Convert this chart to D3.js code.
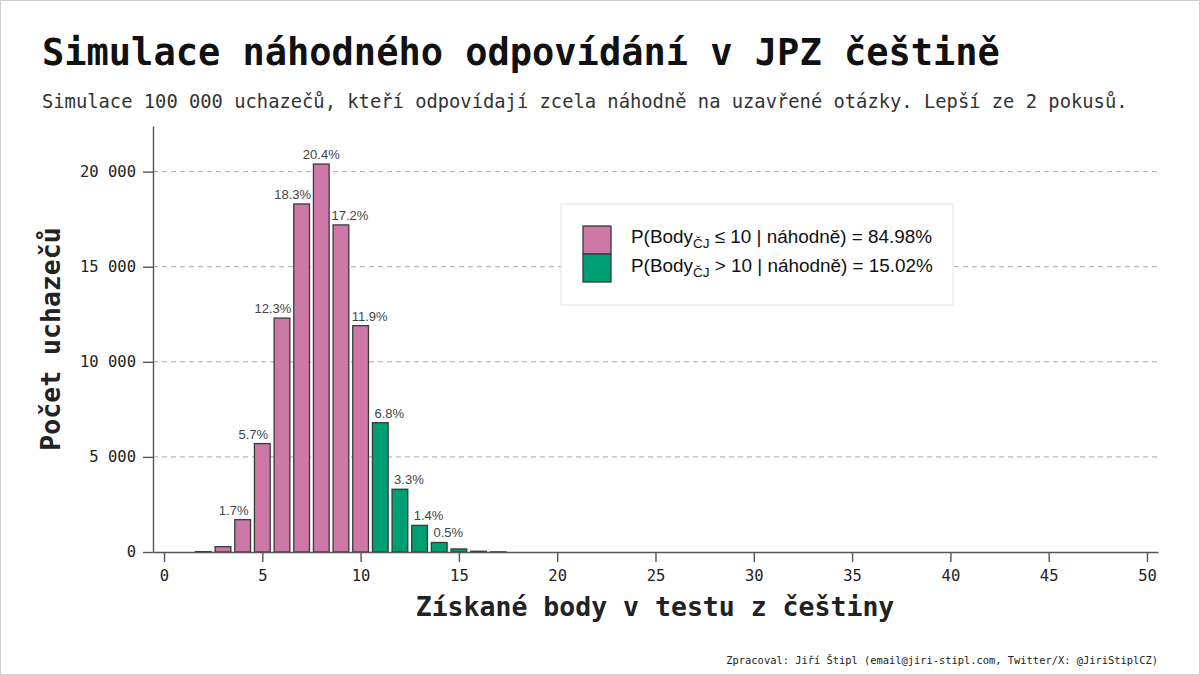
<!DOCTYPE html>
<html>
<head>
<meta charset="utf-8">
<script src="https://cdn.jsdelivr.net/npm/d3@7"></script>
<style>
  body { margin: 0; background: #fff; }
  svg { display: block; }
</style>
</head>
<body>
<div id="chart"></div>
<script>
// body v testu (0-50) a pocet uchazecu ze 100 000 simulaci
const points = d3.range(0, 51);
const counts = [0, 0, 20, 280, 1700, 5700, 12300, 18300, 20400, 17200, 11900,
  6800, 3300, 1400, 500, 160, 40, 8].concat(d3.range(18, 51).map(() => 0));
const total = 100000;
const threshold = 10;
const peak = 8;
const yTicks = [0, 5000, 10000, 15000, 20000];
const xTicks = d3.range(0, 51, 5);
const legendLines = [
  {pre: 'P(Body', sub: 'ČJ', post: ' ≤ 10 | náhodně) = 84.98%'},
  {pre: 'P(Body', sub: 'ČJ', post: ' > 10 | náhodně) = 15.02%'}
];

const W = 1200, H = 675;
const mono = '"DejaVu Sans Mono", "Liberation Mono", monospace';
const sans = '"Liberation Sans", Arial, sans-serif';
const pink = '#CC79A7', green = '#009E73';

const svg = d3.select('#chart').append('svg')
  .attr('width', W)
  .attr('height', H);

svg.append('rect')
  .attr('x', 0.5).attr('y', 0.5)
  .attr('width', W - 1).attr('height', H - 1)
  .attr('fill', '#fff')
  .attr('stroke', '#cfcfcf');

// titles
svg.append('text')
  .attr('x', 42).attr('y', 65)
  .style('font-family', mono)
  .style('font-weight', 'bold')
  .style('font-size', '37px')
  .attr('fill', '#111')
  .text('Simulace náhodného odpovídání v JPZ češtině');

svg.append('text')
  .attr('x', 42).attr('y', 108)
  .style('font-family', mono)
  .style('font-size', '18.8px')
  .attr('fill', '#333')
  .text('Simulace 100 000 uchazečů, kteří odpovídají zcela náhodně na uzavřené otázky. Lepší ze 2 pokusů.');

// scales
const x = d3.scaleLinear().domain([-0.56, 50.56]).range([153, 1158]);
const y = d3.scaleLinear().domain([0, 22400]).range([552, 126]);
const bw = (x(1) - x(0)) * 0.8;

// grid
svg.append('g')
  .selectAll('line')
  .data(yTicks.filter(d => d > 0))
  .join('line')
  .attr('x1', x.range()[0]).attr('x2', x.range()[1])
  .attr('y1', d => y(d)).attr('y2', d => y(d))
  .attr('stroke', '#aaa')
  .attr('stroke-width', 1)
  .attr('stroke-dasharray', '5,4');

// bars
const data = points.map((p, i) => ({p: p, n: counts[i]}));

svg.append('g')
  .selectAll('rect')
  .data(data.filter(d => d.n > 0))
  .join('rect')
  .attr('x', d => x(d.p) - bw / 2)
  .attr('y', d => y(d.n))
  .attr('width', bw)
  .attr('height', d => y(0) - y(d.n))
  .attr('fill', d => d.p <= threshold ? pink : green)
  .attr('stroke', '#3a3a3a')
  .attr('stroke-width', 1.3);

// labels pushed away from the peak so they don't collide
svg.append('g')
  .selectAll('text')
  .data(data.filter(d => d.n / total >= 0.005))
  .join('text')
  .attr('x', d => x(d.p) + (d.p < peak ? -9 : d.p > peak ? 9 : 0))
  .attr('y', d => y(d.n) - 5)
  .attr('text-anchor', 'middle')
  .style('font-family', sans)
  .style('font-size', '13px')
  .attr('fill', '#444')
  .text(d => d3.format('.1f')(d.n / total * 100) + '%');

// axes
const fmt = d => d3.format(',')(d).replace(/,/g, ' ');

const gy = svg.append('g')
  .attr('transform', `translate(${x.range()[0]},0)`)
  .call(d3.axisLeft(y).tickValues(yTicks).tickFormat(fmt).tickSize(10).tickSizeOuter(0).tickPadding(7));

const gx = svg.append('g')
  .attr('transform', `translate(0,${y(0)})`)
  .call(d3.axisBottom(x).tickValues(xTicks).tickSize(10).tickSizeOuter(0).tickPadding(8));

[gy, gx].forEach(g => {
  g.selectAll('path, line').attr('stroke', '#555').attr('stroke-width', 1.4);
  g.selectAll('text')
    .style('font-family', mono)
    .style('font-size', '15.5px')
    .attr('fill', '#222');
});

svg.append('text')
  .attr('transform', 'translate(60,339) rotate(-90)')
  .attr('text-anchor', 'middle')
  .style('font-family', mono)
  .style('font-weight', 'bold')
  .style('font-size', '26.5px')
  .attr('fill', '#222')
  .text('Počet uchazečů');

svg.append('text')
  .attr('x', 655).attr('y', 616)
  .attr('text-anchor', 'middle')
  .style('font-family', mono)
  .style('font-weight', 'bold')
  .style('font-size', '26.5px')
  .attr('fill', '#222')
  .text('Získané body v testu z češtiny');

// legend
const lg = svg.append('g').attr('transform', 'translate(561,204)');
lg.append('rect')
  .attr('width', 392).attr('height', 101)
  .attr('fill', '#fff')
  .attr('stroke', '#e2e2e2');

legendLines.forEach(function(d, i){
  lg.append('rect')
    .attr('x', 22).attr('y', 22 + i * 28)
    .attr('width', 28).attr('height', 28)
    .attr('fill', i === 0 ? pink : green)
    .attr('stroke', '#3a3a3a')
    .attr('stroke-width', 1.3);

  const t = lg.append('text')
    .attr('x', 70).attr('y', 39 + i * 29)
    .style('font-family', sans)
    .style('font-size', '18.9px')
    .attr('fill', '#111');
  t.append('tspan').text(d.pre);
  t.append('tspan').attr('dy', 5).style('font-size', '13.5px').text(d.sub);
  t.append('tspan').attr('dy', -5).text(d.post);
});

// footer
svg.append('text')
  .attr('x', 1158).attr('y', 664)
  .attr('text-anchor', 'end')
  .style('font-family', mono)
  .style('font-size', '10.4px')
  .attr('fill', '#222')
  .text('Zpracoval: Jiří Štipl (email@jiri-stipl.com, Twitter/X: @JiriStiplCZ)');
</script>
</body>
</html>
